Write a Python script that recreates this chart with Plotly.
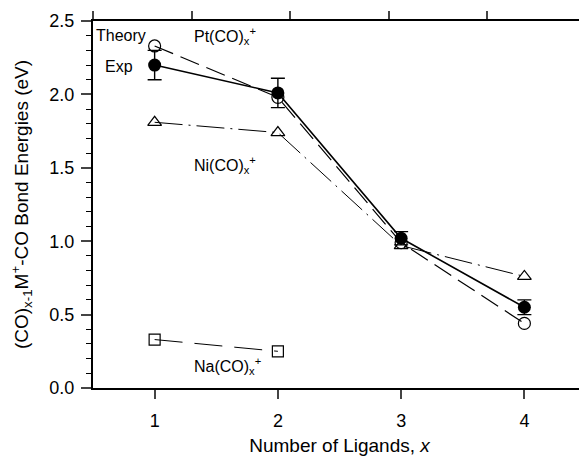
import plotly.graph_objects as go

ligands = [1, 2, 3, 4]
pt_exp = [2.20, 2.01, 1.02, 0.55]
pt_exp_err = [0.10, 0.10, 0.045, 0.05]
pt_theory = [2.33, 1.98, 0.99, 0.44]
ni_theory = [1.81, 1.74, 0.97, 0.76]
na_x = [1, 2]
na_theory = [0.33, 0.25]

FONT = "Liberation Sans, Arial, sans-serif"
fig = go.Figure()

fig.add_trace(go.Scatter(x=na_x, y=na_theory, mode="lines+markers",
    line=dict(color="black", width=1, dash="28px,12px"),
    marker=dict(symbol="square-open", size=11, color="black", line=dict(width=1.2))))
fig.add_trace(go.Scatter(x=ligands, y=ni_theory, mode="lines+markers",
    line=dict(color="black", width=1, dash="28px,6px,2px,6px"),
    marker=dict(symbol="triangle-up-open", size=12, color="black", line=dict(width=1.2))))
fig.add_trace(go.Scatter(x=ligands, y=pt_theory, mode="lines+markers",
    line=dict(color="black", width=1.2, dash="20px,8px"),
    marker=dict(symbol="circle-open", size=12, color="black", line=dict(width=1.2))))
fig.add_trace(go.Scatter(x=ligands, y=pt_exp, mode="lines+markers",
    line=dict(color="black", width=1.6),
    error_y=dict(type="data", array=pt_exp_err, color="black", thickness=1.4, width=7),
    marker=dict(symbol="circle", size=13, color="black")))
# invisible trace to anchor mirrored axes
fig.add_trace(go.Scatter(x=[1], y=[1], xaxis="x2", yaxis="y2", mode="markers",
    marker=dict(opacity=0), hoverinfo="skip"))

fig.update_layout(
    width=579, height=448, showlegend=False,
    margin=dict(l=85, r=1, t=13, b=68),
    plot_bgcolor="white", paper_bgcolor="white",
    font=dict(family=FONT, size=16, color="black"),
    xaxis=dict(range=[0.5, 4.5], tickvals=[1, 2, 3, 4], ticks="outside", ticklen=9,
               tickwidth=1.5, showline=True, linewidth=2, linecolor="black",
               showgrid=False, zeroline=False, tickfont=dict(size=18), automargin=False,
               ticklabelstandoff=6,
               title=dict(text="Number of Ligands, <i>x</i>", font=dict(size=19), standoff=12)),
    yaxis=dict(range=[0, 2.5], tickvals=[0, 0.5, 1.0, 1.5, 2.0, 2.5],
               ticktext=["0.0", "0.5", "1.0", "1.5", "2.0", "2.5"],
               ticks="outside", ticklen=10, tickwidth=1.5, showline=True, linewidth=2,
               linecolor="black", showgrid=False, zeroline=False, tickfont=dict(size=18),
               automargin=False, ticklabelstandoff=3,
               minor=dict(dtick=0.1, ticks="outside", ticklen=5, tickwidth=1.2, tickcolor="black", showgrid=False),
               title=dict(text="(CO)<sub>x-1</sub>M<sup>+</sup>-CO Bond Energies (eV)",
                          font=dict(size=19), standoff=25)),
    xaxis2=dict(overlaying="x", side="top", range=[0.5, 4.5], automargin=False,
                tickvals=[0.5, 1.3, 2.1, 2.9, 3.7, 4.5], showticklabels=False,
                ticks="outside", ticklen=8, tickwidth=1.5, showline=True, linewidth=2,
                linecolor="black", showgrid=False, zeroline=False),
    yaxis2=dict(overlaying="y", side="right", anchor="x2", range=[0, 2.5], dtick=0.1,
                showticklabels=False, ticks="inside", ticklen=4, tickwidth=1.2, automargin=False,
                showline=True, linewidth=1.5, linecolor="black", showgrid=False, zeroline=False),
)

ann = [
    dict(x=0.95, y=2.40, text="Theory", xanchor="right"),
    dict(x=0.84, y=2.19, text="Exp", xanchor="right"),
    dict(x=1.30, y=2.40, text="Pt(CO)<sub>x</sub><sup>+</sup>", xanchor="left"),
    dict(x=1.30, y=1.52, text="Ni(CO)<sub>x</sub><sup>+</sup>", xanchor="left"),
    dict(x=1.30, y=0.15, text="Na(CO)<sub>x</sub><sup>+</sup>", xanchor="left"),
]
for a in ann:
    fig.add_annotation(x=a["x"], y=a["y"], text=a["text"], xanchor=a["xanchor"],
                       yanchor="middle", showarrow=False, font=dict(size=16, family=FONT))

fig.write_html("out.html")
